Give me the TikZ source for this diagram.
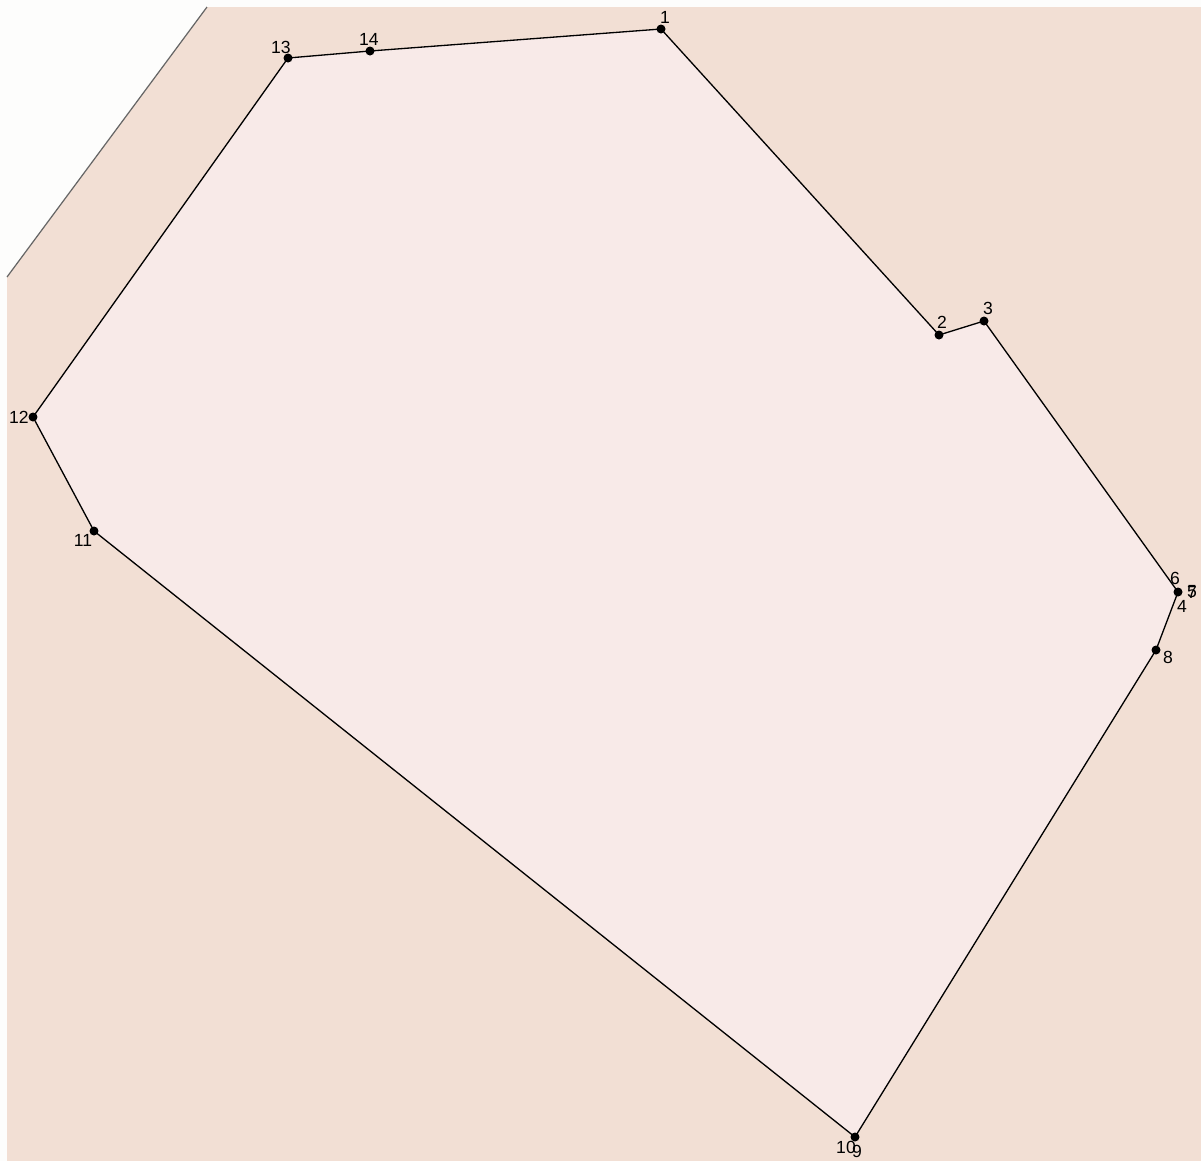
\documentclass[tikz,border=0pt]{standalone}
\usepackage{fontspec}
\setmainfont{Liberation Sans}
\usepackage{xcolor}
\usetikzlibrary{calc, positioning}

\definecolor{nenngoai}{RGB}{242,223,212}
\definecolor{nentrong}{RGB}{248,234,232}
\definecolor{vungtrang}{RGB}{253,253,252}

\begin{document}
\begin{tikzpicture}[x=0.02cm, y=-0.02cm,
    diem/.style={circle, fill=black, inner sep=0pt, minimum size=0.18cm},
    nhan/.style={inner sep=0pt, font=\fontsize{10}{12}\selectfont}]
    % Khung nền
    \useasboundingbox (0,0) rectangle (1201,1161);
    \fill[vungtrang] (0,0) rectangle (1201,1161);
    \fill[nenngoai] (7,7) rectangle (1201,1161);
    \fill[vungtrang] (7,7) -- (207,7) -- (7,277) -- cycle;
    \draw[gray!80!black, line width=0.7pt] (207,7) -- (7,277);
    
    % Các đỉnh
    \coordinate (P1) at (661,29);
    \coordinate (P2) at (939,335);
    \coordinate (P3) at (984,321);
    \coordinate (P4) at (1178,592);
    \coordinate (P8) at (1156,650);
    \coordinate (P9) at (855,1137);
    \coordinate (P11) at (94,531);
    \coordinate (P12) at (33,417);
    \coordinate (P13) at (288,58);
    \coordinate (P14) at (370,51);
    
    % Vẽ đa giác
    \draw[fill=nentrong, line width=0.75pt] (P1) -- (P2) -- (P3) -- (P4) -- (P8) -- (P9)
        -- (P11) -- (P12) -- (P13) -- (P14) -- cycle;
    
    % Đánh dấu các điểm
    \foreach \p in {P1, P2, P3, P4, P8, P9, P11, P12, P13, P14} {
        \node[diem] at (\p) {};
    }
    
    % Nhãn
    \node[nhan] (n1) at (665,17) {1};
    \node[nhan] (n2) at (942,322) {2};
    \node[nhan] (n3) at (988,308) {3};
    \node[nhan] (n4) at (1182,606) {4};
    \node[nhan] (n5) at (1192,592) {5};
    \node[nhan] (n6) at (1175,578) {6};
    \node[nhan] (n7) at (1192,592) {7};
    \node[nhan] (n8) at (1168,657) {8};
    \node[nhan] (n9) at (857,1151) {9};
    \node[nhan] (n10) at (846,1147) {10};
    \node[nhan] (n11) at (83,540) {11};
    \node[nhan] (n12) at (19,417) {12};
    \node[nhan] (n13) at (281,47) {13};
    \node[nhan] (n14) at (369,39) {14};
    
\end{tikzpicture}
\end{document}
